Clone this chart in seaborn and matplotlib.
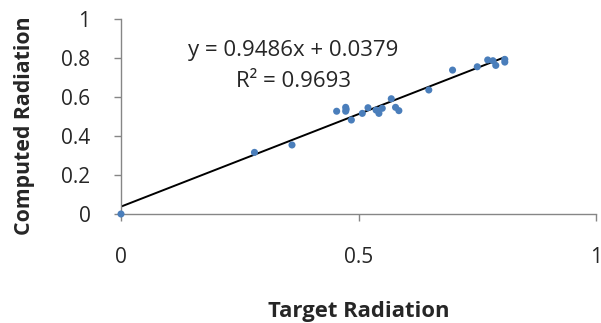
import numpy as np
import pandas as pd
import matplotlib
matplotlib.use("Agg")
import matplotlib.pyplot as plt
import seaborn as sns

# =========================
# DATA
# =========================
target = [0.0, 0.281, 0.360, 0.454, 0.473, 0.473, 0.474, 0.485, 0.508, 0.520,
          0.537, 0.543, 0.550, 0.569, 0.578, 0.585, 0.648, 0.698, 0.750, 0.772,
          0.783, 0.789, 0.808, 0.808]
computed = [0.0, 0.316, 0.354, 0.527, 0.547, 0.527, 0.537, 0.482, 0.516, 0.545,
            0.533, 0.516, 0.542, 0.591, 0.547, 0.530, 0.636, 0.738, 0.755, 0.790,
            0.786, 0.762, 0.793, 0.779]
slope, intercept, r2 = 0.9486, 0.0379, 0.9693

df = pd.DataFrame({"Target Radiation": target, "Computed Radiation": computed})

# =========================
# PLOT
# =========================
sns.set_style("white")
plt.rcParams["font.family"] = ["Open Sans", "DejaVu Sans"]

fig = plt.figure(figsize=(6.01, 3.23), dpi=100)
ax = fig.add_axes([121 / 601, 1 - 214 / 323, 475 / 601, 195 / 323])

sns.scatterplot(data=df, x="Target Radiation", y="Computed Radiation", ax=ax,
                color="#4a7ebb", s=26, edgecolor="none", zorder=3, clip_on=False)

# trendline
xs = np.array([0.0, max(target)])
ax.plot(xs, slope * xs + intercept, color="black", lw=1.4, zorder=2)

ax.text(0.363, 0.81, f"y = {slope}x + {intercept}", ha="center", va="baseline", fontsize=16)
ax.text(0.363, 0.65, f"R² = {r2}", ha="center", va="baseline", fontsize=16)

ax.set_xlim(0, 1)
ax.set_ylim(0, 1)
ax.set_xticks([0, 0.5, 1])
ax.set_xticklabels(["0", "0.5", "1"])
ax.set_yticks([0, 0.2, 0.4, 0.6, 0.8, 1])
ax.set_yticklabels(["0", "0.2", "0.4", "0.6", "0.8", "1"])

for s in ["top", "right"]:
    ax.spines[s].set_visible(False)
for s in ["left", "bottom"]:
    ax.spines[s].set_color("#868686")
    ax.spines[s].set_linewidth(1.0)

ax.tick_params(axis="x", direction="out", length=5, width=1, color="#868686",
               pad=19, labelsize=15)
ax.tick_params(axis="y", direction="out", length=5, width=1, color="#868686",
               pad=17, labelsize=15)
ax.xaxis.set_ticks_position("bottom")
ax.yaxis.set_ticks_position("left")

ax.set_xlabel("Target Radiation", fontsize=15.8, fontweight="bold")
ax.set_ylabel("Computed Radiation", fontsize=15.3, fontweight="bold")
ax.xaxis.label.set_va("center")
ax.yaxis.label.set_va("center")
ax.xaxis.set_label_coords(0.5, -0.5)
ax.yaxis.set_label_coords(-0.203, 0.455)

fig.savefig("out.png", dpi=100)
